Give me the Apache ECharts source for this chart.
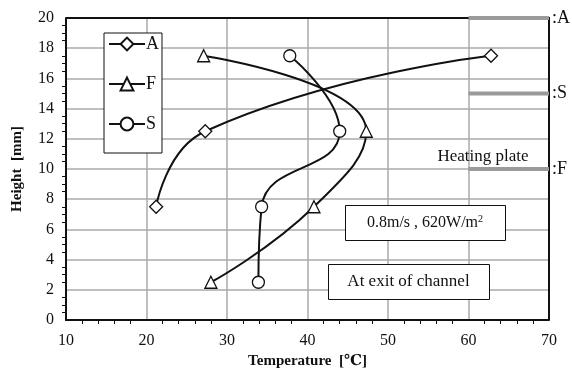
<!DOCTYPE html>
<html>
<head>
<meta charset="utf-8">
<script src="https://cdn.jsdelivr.net/npm/echarts@6/dist/echarts.min.js"></script>
<style>
  html, body { margin: 0; padding: 0; background: #fff; }
  #chart { width: 572px; height: 378px; }
</style>
</head>
<body>
<div id="chart"></div>
<script>
// Temperature profiles at the channel exit (height vs temperature)
const seriesA = [[62.8, 17.5], [27.3, 12.5], [21.2, 7.5]];
const seriesF = [[27.1, 17.5], [47.3, 12.5], [40.8, 7.5], [28.0, 2.5]];
const seriesS = [[37.8, 17.5], [44.0, 12.5], [34.3, 7.5], [33.9, 2.5]];

// Heating plate positions for each configuration (height in mm)
const plateNames = ['A', 'S', 'F'];
const plateHeights = [20, 15, 10];
const plateSpan = [60, 70];

const xTicks = [10, 20, 30, 40, 50, 60, 70];
const yTicks = [0, 2, 4, 6, 8, 10, 12, 14, 16, 18, 20];

const serif = '"Liberation Serif", "DejaVu Serif", serif';

const chart = echarts.init(document.getElementById('chart'));

const profileStyle = (name, data, symbol) => ({
  name: name,
  type: 'line',
  data: data,
  smooth: 0.5,
  symbol: symbol,
  symbolSize: symbol === 'diamond' ? [13, 13] : 12,
  showAllSymbol: true,
  lineStyle: { color: '#111', width: 2 },
  itemStyle: { color: '#fff', borderColor: '#111', borderWidth: 1.3 },
  emphasis: { disabled: true },
  z: 5
});

const plateSeries = plateNames.map((n, i) => ({
  name: 'plate' + n,
  type: 'line',
  data: [[plateSpan[0], plateHeights[i]], [plateSpan[1], plateHeights[i]]],
  symbol: 'none',
  clip: false,
  lineStyle: { color: '#9a9a9a', width: 4 },
  endLabel: {
    show: true,
    distance: 3,
    color: '#111',
    fontFamily: serif,
    fontSize: 18,
    formatter: ':' + n
  },
  emphasis: { disabled: true },
  z: 4
}));

chart.setOption({
  animation: false,
  backgroundColor: '#fff',
  grid: { left: 66, right: 23, top: 18, bottom: 58 },
  legend: {
    data: ['A', 'F', 'S'],
    orient: 'vertical',
    left: 104,
    top: 33,
    itemWidth: 36,
    itemHeight: 16,
    itemGap: 22,
    padding: [2, 3, 20, 4],
    borderColor: '#111',
    borderWidth: 1,
    backgroundColor: '#fff',
    textStyle: { fontFamily: serif, fontSize: 18, color: '#111', padding: [0, 0, 0, -4] }
  },
  xAxis: {
    type: 'value',
    min: xTicks[0],
    max: xTicks[xTicks.length - 1],
    interval: 10,
    name: 'Temperature  [℃]',
    nameLocation: 'middle',
    nameGap: 31,
    nameTextStyle: { fontFamily: serif, fontSize: 15, fontWeight: 'bold', color: '#111' },
    axisLine: { show: true, lineStyle: { color: '#111', width: 2 } },
    axisTick: { show: false },
    minorTick: { show: true, splitNumber: 5, length: 4, lineStyle: { color: '#111' } },
    axisLabel: { fontFamily: serif, fontSize: 16, color: '#111', margin: 13 },
    splitLine: { show: true, lineStyle: { color: '#aaa', width: 1.5 } }
  },
  yAxis: {
    type: 'value',
    min: yTicks[0],
    max: yTicks[yTicks.length - 1],
    interval: 2,
    name: 'Height  [mm]',
    nameLocation: 'middle',
    nameGap: 41,
    nameTextStyle: { fontFamily: serif, fontSize: 15, fontWeight: 'bold', color: '#111' },
    axisLine: { show: true, lineStyle: { color: '#111', width: 2 } },
    axisTick: { show: false },
    minorTick: { show: true, splitNumber: 4, length: 4, lineStyle: { color: '#111' } },
    axisLabel: { fontFamily: serif, fontSize: 16, color: '#111', margin: 12 },
    splitLine: { show: true, lineStyle: { color: '#aaa', width: 1.5 } }
  },
  graphic: [
    // plot frame (top and right edges)
    { type: 'polyline', shape: { points: [[66, 18], [549, 18], [549, 320]] },
      style: { stroke: '#111', lineWidth: 2, fill: null }, z: 3 },
    { type: 'text', x: 483, y: 157,
      style: { text: 'Heating plate', font: '17px ' + serif, fill: '#111', align: 'center', verticalAlign: 'middle' }, z: 10 },
    { type: 'rect', shape: { x: 345.5, y: 205.5, width: 160, height: 35 },
      style: { fill: '#fff', stroke: '#111', lineWidth: 1 }, z: 10 },
    { type: 'text', x: 425, y: 223,
      style: {
        text: '0.8m/s , 620W/m{sup|2}',
        font: '16px ' + serif, fill: '#111', align: 'center', verticalAlign: 'middle',
        rich: { sup: { fontSize: 10, fontFamily: serif, verticalAlign: 'top', padding: [0, 0, 8, 0], fill: '#111' } }
      }, z: 11 },
    { type: 'rect', shape: { x: 328.5, y: 264.5, width: 161, height: 35 },
      style: { fill: '#fff', stroke: '#111', lineWidth: 1 }, z: 10 },
    { type: 'text', x: 408.5, y: 282,
      style: { text: 'At exit of channel', font: '17px ' + serif, fill: '#111', align: 'center', verticalAlign: 'middle' }, z: 11 }
  ],
  series: [
    profileStyle('A', seriesA, 'diamond'),
    profileStyle('F', seriesF, 'triangle'),
    profileStyle('S', seriesS, 'circle'),
    ...plateSeries
  ]
});
</script>
</body>
</html>
